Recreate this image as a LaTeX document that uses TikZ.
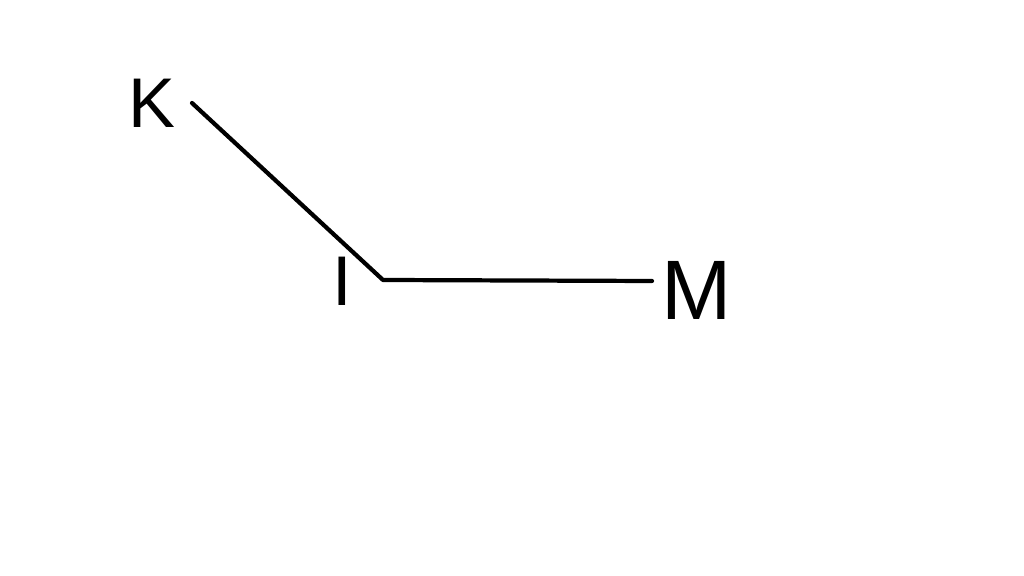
\documentclass[tikz,border=0pt]{standalone}
\usepackage{fontspec}
\setmainfont{Liberation Sans}
\usetikzlibrary{positioning}

\tikzset{
  pointlabel/.style={inner sep=0pt, font=\fontsize{20}{20}\selectfont},
  segment/.style={line width=1.2pt, line cap=round, line join=round}
}

\begin{document}
\begin{tikzpicture}[x=0.01cm, y=0.01cm]
  \useasboundingbox[fill=white] (0,0) rectangle (1024,576);

  %Define nodes
  \node[pointlabel] (K) at (152,473) {K};
  \node[pointlabel] (I) at (342,295) {I};
  \node[pointlabel, font=\fontsize{24}{24}\selectfont] (M) at (697,286) {M};

  % Line end points
  \coordinate (kend) at (192,473);
  \coordinate (corner) at (383,296);
  \coordinate (mend) at (652,295);

  % Connect the points
  \draw[segment] (kend) -- (corner) -- (mend);
\end{tikzpicture}
\end{document}
